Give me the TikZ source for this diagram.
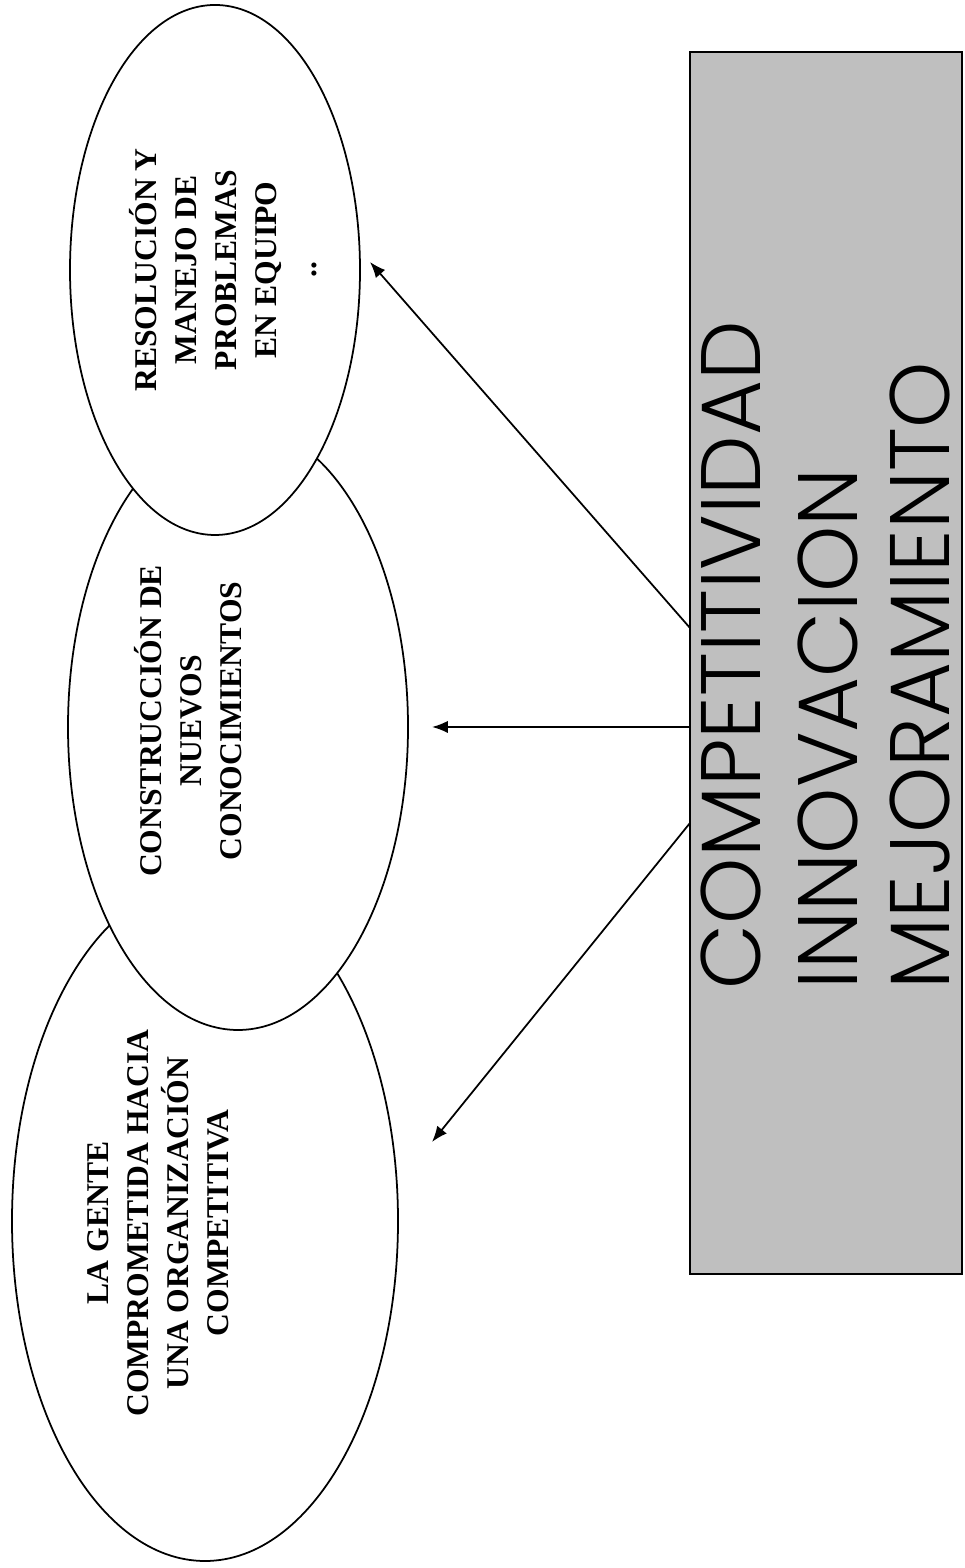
\documentclass[tikz,border=0pt]{standalone}
\usepackage{fontspec}
\setmainfont{Liberation Serif}
\IfFontExistsTF{Poppins Light}{\newfontfamily\cajafont{Poppins Light}}{\newfontfamily\cajafont{Poppins}}
\usetikzlibrary{shapes.geometric,arrows.meta}

\begin{document}
\begin{tikzpicture}[scale=1.0, line width=1pt]
\tikzset{ >={Latex[length=9pt,width=7pt]},
  elipse/.style={draw, ellipse, fill=white, inner sep=0pt},
  texto/.style={rotate=90, align=center, inner sep=0pt, font=\bfseries\fontsize{18}{22.7}\selectfont},
  textocaja/.style={rotate=90, anchor=base west, inner sep=0pt, font=\cajafont\fontsize{48}{58}\selectfont},
}

\useasboundingbox (0,0) rectangle (19.28,31.36);

%%% Elipses

% la gente
\node [elipse, minimum width=7.72cm, minimum height=13.6cm] (gente) at (4.10,6.94) { };

% construccion
\node [elipse, minimum width=6.80cm, minimum height=12.12cm] (constr) at (4.76,16.82) { };

% resolucion
\node [elipse, minimum width=5.80cm, minimum height=10.60cm] (resol) at (4.30,25.96) { };

% textos
\node [texto] (genteT)  at (3.16,6.90)  {LA GENTE\\COMPROMETIDA HACIA\\UNA ORGANIZACIÓN\\COMPETITIVA};
\node [texto] (constrT) at (3.76,16.94) {CONSTRUCCIÓN DE\\NUEVOS\\CONOCIMIENTOS};
\node [texto] (resolT)  at (4.46,25.96) {RESOLUCIÓN Y\\MANEJO DE\\PROBLEMAS\\EN EQUIPO\\..};

%%% Caja

\node [draw, fill=black!25, line width=1.5pt, minimum width=5.44cm, minimum height=24.44cm, inner sep=0pt] (caja) at (16.52,18.10) { };
\node [textocaja] (comp)  at (15.20,11.56) {COMPETITIVIDAD};
\node [textocaja] (innov) at (17.14,11.56) {INNOVACION};
\node [textocaja] (mejor) at (18.98,11.56) {MEJORAMIENTO};

%%% Flechas

\coordinate (s1) at (13.80,18.80);
\coordinate (s2) at (13.80,16.82);
\coordinate (s3) at (13.80,14.90);
\coordinate (p1) at (7.40,26.12);
\coordinate (p2) at (8.64,16.82);
\coordinate (p3) at (8.64,8.52);

% caja -> resolucion
\draw [->] (s1) -- (p1);

% caja -> construccion
\draw [->] (s2) -- (p2);

% caja -> gente
\draw [->] (s3) -- (p3);

\end{tikzpicture}
\end{document}
